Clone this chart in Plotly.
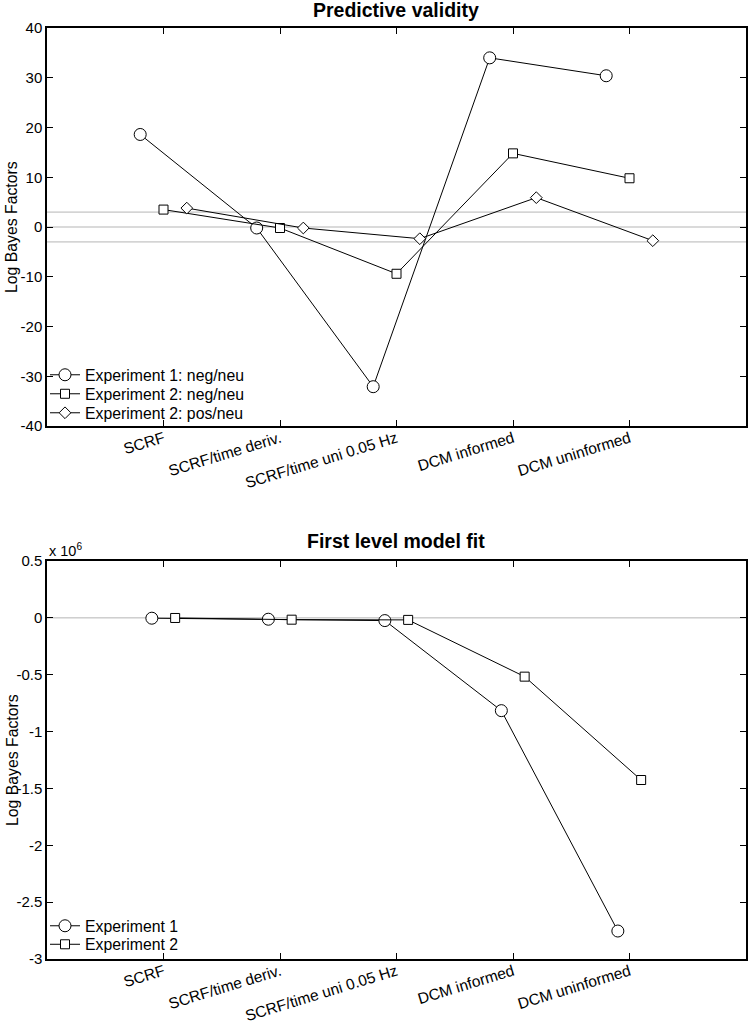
import plotly.graph_objects as go

# ---------------- data ----------------
categories = ["SCRF", "SCRF/time deriv.", "SCRF/time uni 0.05 Hz", "DCM informed", "DCM uninformed"]
cat_pos = [1, 2, 3, 4, 5]

# Predictive validity (log Bayes factors)
pv_exp1_negneu = [18.6, -0.2, -32.1, 34.0, 30.4]
pv_exp2_negneu = [3.5, -0.2, -9.4, 14.8, 9.8]
pv_exp2_posneu = [3.8, -0.2, -2.35, 5.9, -2.75]
pv_thresholds = [3, 0, -3]

# First level model fit (log Bayes factors)
fit_exp1 = [-0.003e6, -0.012e6, -0.024e6, -0.816e6, -2.754e6]
fit_exp2 = [-0.001e6, -0.016e6, -0.018e6, -0.517e6, -1.426e6]
fit_thresholds = [0]

pv_yticks = [40, 30, 20, 10, 0, -10, -20, -30, -40]
pv_yticktext = ["40", "30", "20", "10", "0", "-10", "-20", "-30", "-40"]
fit_yticks = [0.5e6, 0, -0.5e6, -1e6, -1.5e6, -2e6, -2.5e6, -3e6]
fit_yticktext = ["0.5", "0", "-0.5", "-1", "-1.5", "-2", "-2.5", "-3"]

# ---------------- figure ----------------
FONT = "Liberation Sans, Arial, Helvetica, sans-serif"
W, H = 748, 1024
ML, MR, MT, MB = 47, 2, 28, 1024 - 959
plot_h = H - MT - MB
plot_w = W - ML - MR


def py2paper(py):
    """page pixel y -> paper fraction"""
    return (H - MB - py) / plot_h


def px2paper(px):
    return (px - ML) / plot_w


fig = go.Figure()


def add_series(x_off, yvals, name, symbol, size, xa, ya, legend):
    fig.add_trace(go.Scatter(
        x=[c + x_off for c in cat_pos], y=yvals, name=name,
        mode="lines+markers", xaxis=xa, yaxis=ya, legend=legend, showlegend=True,
        line=dict(color="black", width=1),
        marker=dict(symbol=symbol, size=size, color="white",
                    line=dict(color="black", width=1)),
    ))


add_series(-0.2, pv_exp1_negneu, "Experiment 1: neg/neu", "circle", 12, "x", "y", "legend")
add_series(0.0, pv_exp2_negneu, "Experiment 2: neg/neu", "square", 9, "x", "y", "legend2")
add_series(0.2, pv_exp2_posneu, "Experiment 2: pos/neu", "diamond", 9, "x", "y", "legend3")
add_series(-0.1, fit_exp1, "Experiment 1", "circle", 12, "x2", "y2", "legend4")
add_series(0.1, fit_exp2, "Experiment 2", "square", 9, "x2", "y2", "legend5")

shapes = []
for t in pv_thresholds:
    shapes.append(dict(type="line", xref="x domain", yref="y", x0=0, x1=1, y0=t, y1=t,
                       line=dict(color="#b5b5b5", width=1), layer="below"))
for t in fit_thresholds:
    shapes.append(dict(type="line", xref="x2 domain", yref="y2", x0=0, x1=1, y0=t, y1=t,
                       line=dict(color="#b5b5b5", width=1), layer="below"))

top_dom = [py2paper(426), 1.0]
bot_dom = [0.0, py2paper(561)]

axis_common = dict(showline=True, linecolor="black", linewidth=1.5, mirror="ticks",
                   ticks="inside", ticklen=6, tickwidth=1, tickcolor="black",
                   showgrid=False, zeroline=False, automargin=False,
                   tickfont=dict(family=FONT, size=15, color="black"))

xaxis_common = dict(axis_common, range=[0, 6], tickmode="array", tickvals=cat_pos,
                    ticktext=categories, tickangle=-17, ticklabelstandoff=-4,
                    tickfont=dict(family=FONT, size=15.5, color="black"))


def legend_at(py):
    return dict(x=px2paper(45), xanchor="left", y=py2paper(py), yanchor="middle",
                bgcolor="rgba(0,0,0,0)", borderwidth=0, visible=True,
                font=dict(family=FONT, size=15.8, color="black"))


ylab_font = dict(family=FONT, size=15.8, color="black")
title_font = dict(family=FONT, size=19.5, color="black")

fig.update_layout(
    width=W, height=H,
    margin=dict(l=ML, r=MR, t=MT, b=MB),
    paper_bgcolor="white", plot_bgcolor="white",
    showlegend=True,
    font=dict(family=FONT, size=15, color="black"),
    xaxis=dict(xaxis_common, domain=[0, 1], anchor="y"),
    yaxis=dict(axis_common, domain=top_dom, anchor="x", range=[-40, 40],
               tickmode="array", tickvals=pv_yticks, ticktext=pv_yticktext),
    xaxis2=dict(xaxis_common, domain=[0, 1], anchor="y2"),
    yaxis2=dict(axis_common, domain=bot_dom, anchor="x2", range=[-3e6, 0.5e6],
                tickmode="array", tickvals=fit_yticks, ticktext=fit_yticktext),
    shapes=shapes,
    legend=legend_at(375),
    legend2=legend_at(394),
    legend3=legend_at(413),
    legend4=legend_at(926),
    legend5=legend_at(944.5),
    annotations=[
        dict(text="<b>Predictive validity</b>", xref="paper", yref="paper",
             x=px2paper(396), y=py2paper(10), xanchor="center", yanchor="middle",
             showarrow=False, font=title_font),
        dict(text="<b>First level model fit</b>", xref="paper", yref="paper",
             x=px2paper(396), y=py2paper(541), xanchor="center", yanchor="middle",
             showarrow=False, font=title_font),
        dict(text="x 10<sup>6</sup>", xref="paper", yref="paper",
             x=0, y=py2paper(561), xanchor="left", yanchor="bottom", showarrow=False,
             font=dict(family=FONT, size=14.5, color="black")),
        dict(text="Log Bayes Factors", xref="paper", yref="paper", textangle=-90,
             x=px2paper(12), y=py2paper(227), xanchor="center", yanchor="middle",
             showarrow=False, font=ylab_font),
        dict(text="Log Bayes Factors", xref="paper", yref="paper", textangle=-90,
             x=px2paper(12), y=py2paper(760), xanchor="center", yanchor="middle",
             showarrow=False, font=ylab_font),
    ],
)

fig.write_html("out.html", config={"displayModeBar": False},
               post_script="document.body.style.margin='0';document.body.style.overflow='hidden';")
